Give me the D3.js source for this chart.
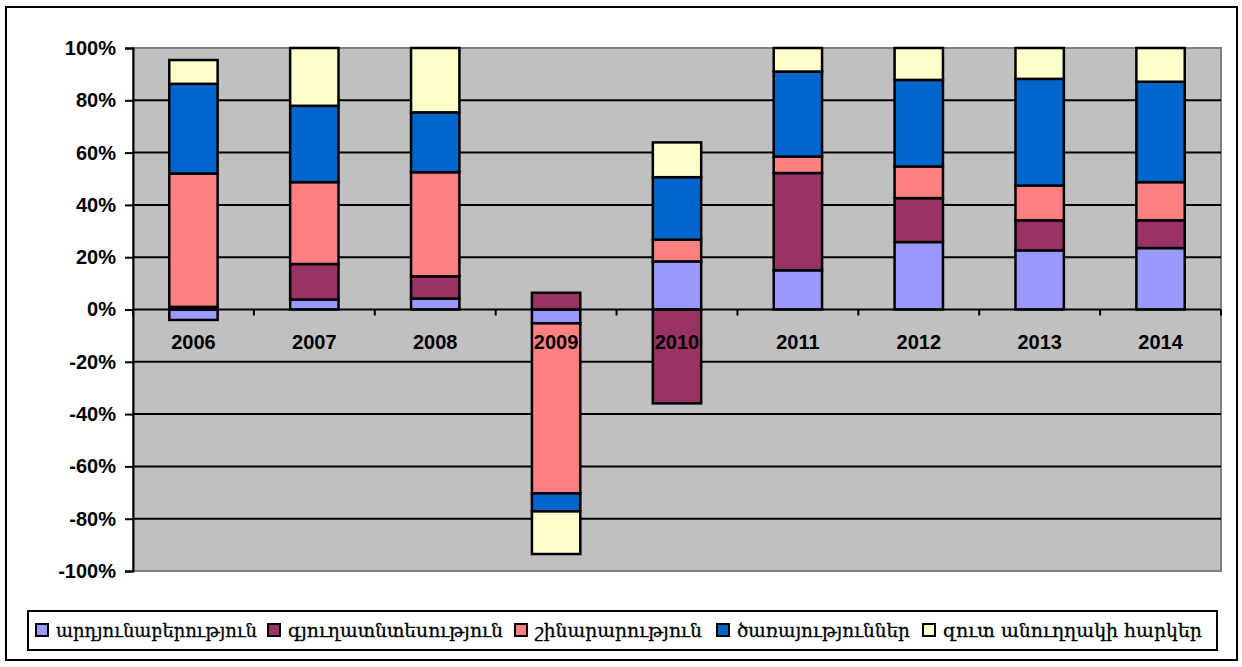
<!DOCTYPE html>
<html>
<head>
<meta charset="utf-8">
<script src="https://cdn.jsdelivr.net/npm/d3@7"></script>
<style>
  body { margin: 0; background: #fff; }
  svg text { font-family: "Liberation Sans", Arial, sans-serif; }
</style>
</head>
<body>
<div id="chart-area"></div>
<script>
// years on the x axis
var years = ["2006", "2007", "2008", "2009", "2010", "2011", "2012", "2013", "2014"];

// series names (legend)
var seriesNames = ["արդյունաբերություն", "գյուղատնտեսություն", "շինարարություն", "ծառայություններ", "զուտ անուղղակի հարկեր"];
var seriesColors = ["#9999FF", "#993366", "#FF8080", "#0066CC", "#FFFFCC"];

// contributions, %
var industry     = [-4.0,  3.8,  4.2, -5.3, 18.4, 15.0, 25.8, 22.6, 23.5];
var agriculture  = [ 1.0, 13.6,  8.5,  6.4, -35.9, 37.2, 16.8, 11.5, 10.6];
var construction = [51.0, 31.3, 39.8, -65.0, 8.3,  6.3, 12.1, 13.3, 14.6];
var services     = [34.3, 29.2, 22.9, -6.9, 23.9, 32.5, 33.1, 40.8, 38.4];
var netTaxes     = [ 9.1, 22.1, 24.6, -16.3, 13.3, 9.0, 12.2, 11.8, 12.9];

var yTicks = [-100, -80, -60, -40, -20, 0, 20, 40, 60, 80, 100];

var seriesValues = [industry, agriculture, construction, services, netTaxes];

// legend layout: swatch left edge and text right edge of each item
var legendStart = [36, 268, 515, 717, 923];
var legendEnd = [257, 503, 702, 910, 1202];

var table = years.map(function (yr, i) {
    var row = { year: yr };
    seriesNames.forEach(function (name, s) { row[name] = seriesValues[s][i]; });
    return row;
});

var W = 1242, H = 667;
var margin = { left: 133, right: 21, top: 48, bottom: 96 };
var width = W - margin.left - margin.right,
    height = H - margin.top - margin.bottom;

var svg = d3.select("#chart-area").append("svg")
    .attr("width", W)
    .attr("height", H);

// outer frame
svg.append("rect")
    .attr("x", 6).attr("y", 7)
    .attr("width", 1231).attr("height", 653)
    .attr("fill", "#fff")
    .attr("stroke", "#000")
    .attr("stroke-width", 2);

var g = svg.append("g")
    .attr("transform", "translate(" + margin.left + "," + margin.top + ")");

var x = d3.scaleBand().domain(years).range([0, width]).paddingInner(0.6).paddingOuter(0.3);
var xBand = d3.scaleBand().domain(years).range([0, width]);
var y = d3.scaleLinear().domain([-100, 100]).range([height, 0]);

// plot area
g.append("rect")
    .attr("width", width)
    .attr("height", height)
    .attr("fill", "#C0C0C0")
    .attr("stroke", "#808080")
    .attr("stroke-width", 2);

// gridlines
g.selectAll("line.grid")
    .data(yTicks.filter(function (d) { return Math.abs(d) < 100 && d !== 0; }))
    .enter().append("line")
    .attr("class", "grid")
    .attr("x1", 0).attr("x2", width)
    .attr("y1", function (d) { return y(d); })
    .attr("y2", function (d) { return y(d); })
    .attr("stroke", "#000")
    .attr("stroke-width", 2);

// stacked bars
var stack = d3.stack().keys(seriesNames).offset(d3.stackOffsetDiverging);
var layers = stack(table);

g.selectAll("g.layer")
    .data(layers)
    .enter().append("g")
    .attr("class", "layer")
    .attr("fill", function (d, i) { return seriesColors[i]; })
    .selectAll("rect")
    .data(function (d) { return d; })
    .enter().append("rect")
    .attr("x", function (d) { return x(d.data.year); })
    .attr("width", x.bandwidth())
    .attr("y", function (d) { return y(Math.max(d[0], d[1])); })
    .attr("height", function (d) { return Math.abs(y(d[0]) - y(d[1])); })
    .attr("stroke", "#000")
    .attr("stroke-width", 2.5);

// zero line with ticks between categories
g.append("line")
    .attr("x1", 0).attr("x2", width)
    .attr("y1", y(0)).attr("y2", y(0))
    .attr("stroke", "#000").attr("stroke-width", 2);

var bounds = years.map(function (d) { return xBand(d); }).concat([width]);
g.selectAll("line.xtick")
    .data(bounds)
    .enter().append("line")
    .attr("class", "xtick")
    .attr("x1", function (d) { return d; }).attr("x2", function (d) { return d; })
    .attr("y1", y(0)).attr("y2", y(0) + 6)
    .attr("stroke", "#000").attr("stroke-width", 2);

// x labels
g.selectAll("text.xlab")
    .data(years)
    .enter().append("text")
    .attr("class", "xlab")
    .attr("x", function (d) { return xBand(d) + xBand.bandwidth() / 2; })
    .attr("y", y(0) + 39)
    .attr("text-anchor", "middle")
    .attr("font-size", "20px")
    .attr("font-weight", "bold")
    .text(function (d) { return d; });

// y axis
var yAxisCall = d3.axisLeft(y)
    .tickValues(yTicks)
    .tickSize(8)
    .tickPadding(9)
    .tickFormat(function (d) { return d + "%"; });

var yAxis = g.append("g").attr("class", "y axis").call(yAxisCall);
yAxis.select(".domain").attr("stroke", "#000").attr("stroke-width", 2);
yAxis.selectAll(".tick line").attr("stroke", "#000").attr("stroke-width", 2);
yAxis.selectAll(".tick text")
    .attr("font-size", "20px")
    .attr("font-weight", "bold")
    .attr("fill", "#000")
    .style("font-family", "'Liberation Sans', Arial, sans-serif");

// legend
var legend = svg.append("g").attr("class", "legend");
legend.append("rect")
    .attr("x", 28).attr("y", 611)
    .attr("width", 1189).attr("height", 39)
    .attr("fill", "#fff")
    .attr("stroke", "#000")
    .attr("stroke-width", 2);

seriesNames.forEach(function (name, i) {
    var lx = legendStart[i];
    legend.append("rect")
        .attr("x", lx).attr("y", 624)
        .attr("width", 12).attr("height", 12)
        .attr("fill", seriesColors[i])
        .attr("stroke", "#000")
        .attr("stroke-width", 2);
    legend.append("text")
        .attr("x", lx + 20)
        .attr("y", 637)
        .attr("font-size", "18px")
        .attr("textLength", legendEnd[i] - lx - 20)
        .attr("lengthAdjust", "spacingAndGlyphs")
        .attr("stroke", "#000")
        .attr("stroke-width", 0.3)
        .style("font-family", "'DejaVu Serif', serif")
        .text(name);
});
</script>
</body>
</html>
